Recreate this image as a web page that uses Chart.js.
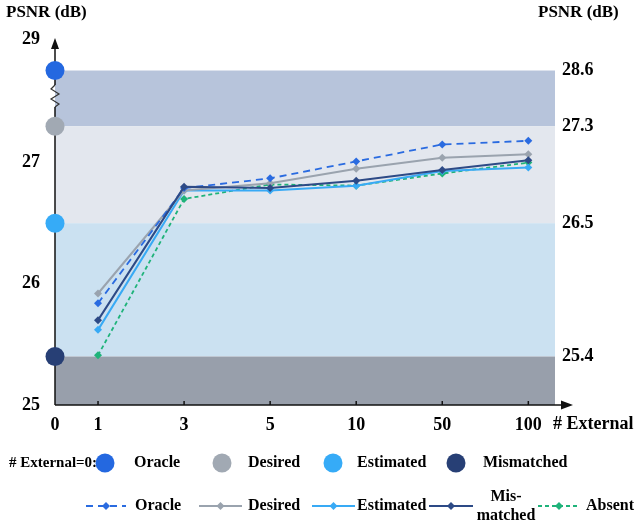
<!DOCTYPE html>
<html>
<head>
<meta charset="utf-8">
<script src="https://cdn.jsdelivr.net/npm/chart.js@4.4.1/dist/chart.umd.min.js"></script>
<style>
  body { margin: 0; background: #fff; }
  canvas { display: block; }
</style>
</head>
<body>
<canvas id="myChart" width="636" height="520"></canvas>
<script>
// -------------------- data -------------------- //
var externalLabels = ["0", "1", "3", "5", "10", "50", "100"];
var externalPos = [0, 0.5, 1.5, 2.5, 3.5, 4.5, 5.5]; // 0 -> 1 is only half a step

var seriesNames = ["Oracle", "Desired", "Estimated", "Mismatched", "Absent"];
var oracleValues     = [25.84, 26.79, 26.87, 27.01, 27.15, 27.18];
var desiredValues    = [25.92, 26.77, 26.83, 26.95, 27.04, 27.07];
var estimatedValues  = [25.62, 26.77, 26.77, 26.81, 26.93, 26.96];
var mismatchedValues = [25.70, 26.80, 26.79, 26.85, 26.94, 27.02];
var absentValues     = [25.41, 26.70, 26.82, 26.81, 26.91, 27.00];

var zeroNames  = ["Oracle", "Desired", "Estimated", "Mismatched"];
var zeroValues = [28.6, 27.3, 26.5, 25.4]; // # External = 0

var leftTicks  = [25, 26, 27, 29];
var rightTicks = [28.6, 27.3, 26.5, 25.4];
var bandEdges  = [28.6, 27.3, 26.5, 25.4, 25];

// -------------------- styles -------------------- //
var seriesColors = ["#2a6be0", "#9aa3ae", "#38aaf5", "#2d4a86", "#1fb37a"];
var seriesDash   = [[7, 5], [], [], [], [4, 3]];
var zeroColors   = ["#2468e0", "#a1a9b3", "#36abf7", "#273f75"];
var bandColors   = ["#b7c4db", "#e3e7ee", "#cbe1f1", "#989fab"];
var serif = "'Liberation Serif', 'Times New Roman', serif";

// broken axis: everything above 27.3 is squeezed
var breakReal = [25, 27.3, 28.6, 29];
var breakDraw = [25, 27.3, 27.76, 28.02];

function toAxis(v) {
  for (var i = 0; i < breakReal.length - 1; i++) {
    if (v <= breakReal[i + 1] || i == breakReal.length - 2) {
      var t = (v - breakReal[i]) / (breakReal[i + 1] - breakReal[i]);
      return breakDraw[i] + t * (breakDraw[i + 1] - breakDraw[i]);
    }
  }
}

function makePoints(values) {
  var pts = [];
  for (var i = 0; i < values.length; i++) {
    pts.push({ x: externalPos[i + 1], y: toAxis(values[i]) });
  }
  return pts;
}

var allValues = [oracleValues, desiredValues, estimatedValues, mismatchedValues, absentValues];

var datasets = [];
var zeroPoints = [];
for (var i = 0; i < zeroValues.length; i++) {
  zeroPoints.push({ x: externalPos[0], y: toAxis(zeroValues[i]) });
}
datasets.push({
  label: "# External=0",
  data: zeroPoints,
  showLine: false,
  clip: false,
  pointRadius: 9.5,
  pointStyle: 'circle',
  pointBackgroundColor: zeroColors,
  pointBorderWidth: 0,
  order: -1
});

for (var s = 0; s < seriesNames.length; s++) {
  datasets.push({
    label: seriesNames[s],
    data: makePoints(allValues[s]),
    borderColor: seriesColors[s],
    backgroundColor: seriesColors[s],
    borderWidth: s == 4 || s == 0 ? 1.8 : 2,
    borderDash: seriesDash[s],
    pointStyle: 'rectRot',
    pointRadius: 4,
    pointBorderWidth: 0,
    fill: false,
    tension: 0,
    order: s == 3 ? 0 : 1
  });
}

// -------------------- decorations -------------------- //
function arrowHead(ctx, x, y, dir) {
  ctx.beginPath();
  if (dir == 'up') {
    ctx.moveTo(x, y); ctx.lineTo(x - 4, y + 11); ctx.lineTo(x + 4, y + 11);
  } else {
    ctx.moveTo(x, y); ctx.lineTo(x - 12, y - 4.5); ctx.lineTo(x - 12, y + 4.5);
  }
  ctx.closePath();
  ctx.fill();
}

var decorPlugin = {
  id: 'decor',
  beforeDatasetsDraw: function(chart) {
    var ctx = chart.ctx, area = chart.chartArea;
    var ys = chart.scales.y, xs = chart.scales.x;
    ctx.save();
    for (var i = 0; i < bandEdges.length - 1; i++) {
      var top = ys.getPixelForValue(toAxis(bandEdges[i]));
      var bottom = ys.getPixelForValue(toAxis(bandEdges[i + 1]));
      ctx.fillStyle = bandColors[i];
      ctx.fillRect(area.left, top, area.right - area.left, bottom - top);
    }

    ctx.strokeStyle = "#111";
    ctx.fillStyle = "#111";
    ctx.lineWidth = 1.5;
    var ax = area.left, ay = area.bottom;
    // x axis
    ctx.beginPath();
    ctx.moveTo(ax, ay); ctx.lineTo(area.right + 8, ay);
    ctx.stroke();
    arrowHead(ctx, area.right + 18, ay, 'right');
    for (var k = 1; k < externalPos.length; k++) {
      var tx = xs.getPixelForValue(externalPos[k]);
      ctx.beginPath(); ctx.moveTo(tx, ay); ctx.lineTo(tx, ay - 4); ctx.stroke();
    }
    // y axis with break
    var zTop = area.top + 46, zBot = area.top + 68;
    ctx.beginPath();
    ctx.moveTo(ax, ay); ctx.lineTo(ax, zBot);
    ctx.stroke();
    ctx.beginPath();
    ctx.lineWidth = 1.2;
    ctx.strokeStyle = "#333";
    ctx.moveTo(ax, zBot);
    ctx.lineTo(ax + 4, zBot - 3);
    ctx.lineTo(ax - 4, zBot - 8);
    ctx.lineTo(ax + 4, zBot - 13);
    ctx.lineTo(ax - 4, zBot - 18);
    ctx.lineTo(ax, zTop);
    ctx.stroke();
    ctx.beginPath();
    ctx.lineWidth = 1.5;
    ctx.strokeStyle = "#111";
    ctx.moveTo(ax, zTop); ctx.lineTo(ax, area.top + 8);
    ctx.stroke();
    arrowHead(ctx, ax, area.top - 1, 'up');
    ctx.restore();
  },
  afterDraw: function(chart) {
    var ctx = chart.ctx;
    ctx.save();
    ctx.fillStyle = "#000";
    ctx.textBaseline = 'middle';
    ctx.font = "bold 17px " + serif;
    ctx.textAlign = 'left';
    ctx.fillText("PSNR (dB)", 6, 13);
    ctx.fillText("PSNR (dB)", 538, 13);
    ctx.font = "bold 18px " + serif;
    ctx.fillText("# External", 553, 424);

    // legend row 1: External = 0 markers
    var row1 = 463;
    ctx.font = "bold 15px " + serif;
    ctx.fillText("# External=0:", 9, row1);
    var circleX = [105, 222, 333, 456];
    var textX1  = [134, 248, 357, 483];
    ctx.font = "bold 16px " + serif;
    for (var i = 0; i < zeroNames.length; i++) {
      ctx.fillStyle = zeroColors[i];
      ctx.beginPath(); ctx.arc(circleX[i], row1, 9.5, 0, Math.PI * 2); ctx.fill();
      ctx.fillStyle = "#000";
      ctx.fillText(zeroNames[i], textX1[i], row1);
    }

    // legend row 2: lines
    var row2 = 506;
    var lineFrom = [86, 199, 312, 429, 538];
    var lineTo   = [126, 242, 355, 473, 580];
    var textX2   = [135, 248, 357, 506, 586];
    for (var s = 0; s < seriesNames.length; s++) {
      ctx.strokeStyle = seriesColors[s];
      ctx.fillStyle = seriesColors[s];
      ctx.lineWidth = s == 4 || s == 0 ? 1.8 : 2;
      ctx.setLineDash(seriesDash[s]);
      ctx.beginPath(); ctx.moveTo(lineFrom[s], row2); ctx.lineTo(lineTo[s], row2); ctx.stroke();
      ctx.setLineDash([]);
      var mx = (lineFrom[s] + lineTo[s]) / 2;
      ctx.beginPath();
      ctx.moveTo(mx, row2 - 4); ctx.lineTo(mx + 4, row2); ctx.lineTo(mx, row2 + 4); ctx.lineTo(mx - 4, row2);
      ctx.closePath(); ctx.fill();
      ctx.fillStyle = "#000";
      if (seriesNames[s] == "Mismatched") {
        ctx.textAlign = 'center';
        ctx.fillText("Mis-", textX2[s], row2 - 9);
        ctx.fillText("matched", textX2[s], row2 + 10);
        ctx.textAlign = 'left';
      } else {
        ctx.fillText(seriesNames[s], textX2[s], row2);
      }
    }
    ctx.restore();
  }
};

// -------------------- chart -------------------- //
var chartDiv = document.getElementById('myChart').getContext('2d');
var chart = new Chart(chartDiv, {
  type: 'line',
  data: { datasets: datasets },
  plugins: [decorPlugin],
  options: {
    responsive: false,
    animation: false,
    events: [],
    layout: { padding: { top: 39, left: 0, right: 0, bottom: 0 } },
    plugins: { legend: { display: false }, tooltip: { enabled: false } },
    scales: {
      x: {
        type: 'linear',
        min: 0,
        max: 5.81,
        grid: { display: false, drawTicks: false },
        border: { display: false },
        afterBuildTicks: function(scale) {
          scale.ticks = externalPos.map(function(p) { return { value: p }; });
        },
        afterFit: function(scale) { scale.height = 115; },
        ticks: {
          autoSkip: false,
          maxRotation: 0,
          padding: 10,
          color: "#000",
          font: { family: serif, size: 18, weight: 'bold' },
          callback: function(v, i) { return externalLabels[i]; }
        }
      },
      y: {
        type: 'linear',
        position: 'left',
        min: 25,
        max: toAxis(29),
        grid: { display: false, drawTicks: false },
        border: { display: false },
        afterBuildTicks: function(scale) {
          scale.ticks = leftTicks.map(function(v) { return { value: toAxis(v) }; });
        },
        afterFit: function(scale) { scale.width = 55; },
        ticks: {
          padding: 15,
          color: "#000",
          font: { family: serif, size: 18, weight: 'bold' },
          callback: function(v, i) { return String(leftTicks[i]); }
        }
      },
      y2: {
        type: 'linear',
        position: 'right',
        min: 25,
        max: toAxis(29),
        grid: { display: false, drawTicks: false },
        border: { display: false },
        afterBuildTicks: function(scale) {
          scale.ticks = rightTicks.map(function(v) { return { value: toAxis(v) }; });
        },
        afterFit: function(scale) { scale.width = 81; },
        ticks: {
          padding: 7,
          color: "#000",
          font: { family: serif, size: 18, weight: 'bold' },
          callback: function(v, i) { return rightTicks[i].toFixed(1); }
        }
      }
    }
  }
});
</script>
</body>
</html>
